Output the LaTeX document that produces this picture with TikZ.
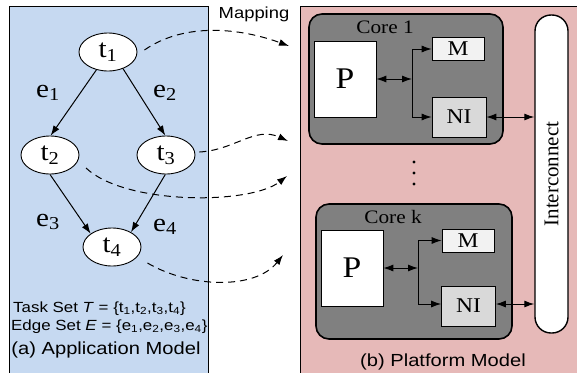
\documentclass[tikz,border=0pt]{standalone}
\usepackage{fontspec}
\setmainfont{Liberation Serif}[FakeStretch=1.12]
\setsansfont{Liberation Sans}[FakeStretch=1.15]
\newfontfamily\upserif{Liberation Serif}
\usetikzlibrary{positioning, shapes.geometric, arrows.meta, calc}

\definecolor{appblue}{HTML}{C6D9F1}
\definecolor{platpink}{HTML}{E6B9B8}
\definecolor{coregray}{HTML}{808080}
\definecolor{memgray}{HTML}{F2F2F2}
\definecolor{nigray}{HTML}{D9D9D9}

\tikzset{
  panel/.style={draw, line width=0.9pt, anchor=north west, inner sep=0},
  task/.style={ellipse, draw, fill=white, line width=0.9pt, minimum width=58, minimum height=38, inner sep=0, font=\fontsize{26}{28}\selectfont},
  elabel/.style={font=\fontsize{26}{28}\selectfont},
  corebox/.style={draw, line width=1.6pt, fill=coregray, rounded corners=13, inner sep=0},
  corename/.style={font=\fontsize{19}{21}\selectfont},
  procbox/.style={draw, line width=0.7pt, fill=white, minimum width=62, minimum height=76, inner sep=0, font=\fontsize{30}{32}\selectfont},
  membox/.style={draw, line width=0.7pt, fill=memgray, minimum width=52, minimum height=23, inner sep=0, font=\fontsize{21}{23}\selectfont},
  nibox/.style={draw, line width=0.7pt, fill=nigray, minimum width=54, minimum height=40, inner sep=0, font=\fontsize{21}{23}\selectfont},
  link/.style={line width=1pt, >={Latex[length=10pt,width=7pt]}},
  map/.style={line width=1pt, dash pattern=on 7pt off 5pt, ->, >={Latex[length=10pt,width=7pt]}},
  caption/.style={font=\sffamily\fontsize{17.5}{19}\selectfont},
  setline/.style={font=\sffamily\fontsize{14.7}{16}\selectfont, anchor=base west, inner sep=0}
}

\begin{document}
\begin{tikzpicture}[x=1pt, y=-1pt]
  \useasboundingbox (0,0) rectangle (577,372);
  % panels
  \node[panel, fill=appblue, minimum width=199, minimum height=372] (appmodel) at (9,6) {};
  \node[panel, fill=platpink, minimum width=290, minimum height=372] (platmodel) at (300,6) {};

  % application model
  \node[task] (t1) at (108,52) {t\textsubscript{1}};
  \node[task] (t2) at (50,155) {t\textsubscript{2}};
  \node[task] (t3) at (166,155) {t\textsubscript{3}};
  \node[task] (t4) at (112,247) {t\textsubscript{4}};
  \draw[link,->] (t1.237) -- (t2.88);
  \draw[link,->] (t1.312) -- (t3.92);
  \draw[link,->] (t2.270) -- (t4.148);
  \draw[link,->] (t3.268) -- (t4.38);
  \node[elabel] (e1) at (48,93) {e\textsubscript{1}};
  \node[elabel] (e2) at (165,93) {e\textsubscript{2}};
  \node[elabel] (e3) at (48,222) {e\textsubscript{3}};
  \node[elabel] (e4) at (165,227) {e\textsubscript{4}};

  \node[setline] (taskset) at (13,312) {Task Set \textit{T} = \{t\textsubscript{1},t\textsubscript{2},t\textsubscript{3},t\textsubscript{4}\}};
  \node[setline] (edgeset) at (11,330) {Edge Set \textit{E} = \{e\textsubscript{1},e\textsubscript{2},e\textsubscript{3},e\textsubscript{4}\}};
  \node[caption] (appcap) at (106,350) {(a) Application Model};

  % platform model
  \node[corebox, minimum width=194, minimum height=130] (core1) at (406,79) {};
  \node[corename] (core1name) at (385,27) {Core 1};
  \node[procbox] (p1) at (345,79) {P};
  \node[membox] (m1) at (458,49) {M};
  \node[nibox] (ni1) at (459,117) {NI};
  \coordinate (j1) at (412,79);
  \draw[link,<->] (p1) -- (j1);
  \draw[link,->] (j1) |- (m1);
  \draw[link,->] (j1) |- (ni1);

  \node[corebox, minimum width=196, minimum height=135] (corek) at (414,271.5) {};
  \node[corename] (corekname) at (393,217) {Core k};
  \node[procbox] (pk) at (352,268) {P};
  \node[membox] (mk) at (468,240.5) {M};
  \node[nibox] (nik) at (468.5,306) {NI};
  \coordinate (jk) at (418,268);
  \draw[link,<->] (pk) -- (jk);
  \draw[link,->] (jk) |- (mk);
  \draw[link,->] (jk) |- ($(nik.west)+(0,-2)$);

  \node[draw, line width=1.4pt, fill=white, rounded corners=16, rotate=90, minimum width=318, minimum height=33, inner sep=0, font=\upserif\fontsize{21}{23}\selectfont] (ic) at (551.5,174) {Interconnect};
  \draw[link,<->] (ni1.east) -- (ni1.east -| ic.north);
  \draw[link,<->] ($(nik.east)+(0,-2)$) -- ($(nik.east -| ic.north)+(0,-2)$);

  \foreach \dy in {162,173,184} \fill (414,\dy) circle (1.7);

  \node[caption] (platcap) at (443,362) {(b) Platform Model};

  % mapping
  \node[font=\sffamily\fontsize{16}{18}\selectfont, anchor=base] (maplabel) at (254,18) {Mapping};
  \coordinate (to1) at (289,46);
  \coordinate (to2) at (288,141);
  \coordinate (to3) at (287,176);
  \coordinate (to4) at (283,255);
  \draw[map] (t1.east) ++(7,-2) .. controls (185,22) and (240,28) .. (to1);
  \draw[map] (t3.east) ++(4,-3) .. controls (235,150) and (255,126) .. (to2);
  \draw[map] (86,168) .. controls (125,205) and (250,205) .. (to3);
  \draw[map] (t4.east) ++(6,16) .. controls (190,288) and (255,290) .. (to4);
\end{tikzpicture}
\end{document}
